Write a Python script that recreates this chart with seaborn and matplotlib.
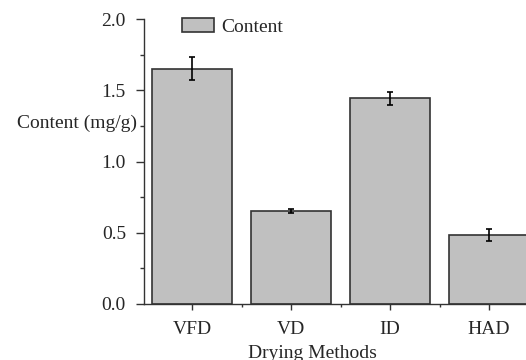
import matplotlib
matplotlib.use("Agg")
import matplotlib.pyplot as plt
from matplotlib.ticker import MultipleLocator, FixedLocator
import seaborn as sns
import pandas as pd

methods = ["VFD", "VD", "ID", "HAD"]
content = [1.65, 0.653, 1.443, 0.484]
errors = [0.08, 0.015, 0.045, 0.04]

sns.set_style("ticks")
plt.rcParams['font.family'] = ['Liberation Serif', 'DejaVu Serif']
plt.rcParams['font.size'] = 14

df = pd.DataFrame({"Method": methods, "Content": content})

fig = plt.figure(figsize=(5.26, 3.6), dpi=100)
ax = fig.add_axes([144/526, 56/360, 394.5/526, 285/360])

sns.barplot(data=df, x="Method", y="Content", color="#c0c0c0", saturation=1,
            edgecolor="#333333", linewidth=1.2, width=0.8, errorbar=None,
            ax=ax, label="Content")
ax.errorbar(x=list(range(len(methods))), y=content, yerr=errors, fmt="none",
            ecolor="black", elinewidth=1.2, capsize=2.3, capthick=1.2)

ax.set_xlim(-0.485, 3.5)
ax.set_ylim(0, 2.0)
ax.yaxis.set_major_locator(MultipleLocator(0.5))
ax.yaxis.set_minor_locator(MultipleLocator(0.25))
ax.xaxis.set_minor_locator(FixedLocator([0.5, 1.5, 2.5]))
ax.set_yticks([0, 0.5, 1.0, 1.5, 2.0])
ax.set_yticklabels(["0.0", "0.5", "1.0", "1.5", "2.0"])

ax.tick_params(axis="y", which="major", length=6, width=1, color="#333333", pad=7, labelsize=14)
ax.tick_params(axis="y", which="minor", length=3, width=1, color="#333333")
ax.tick_params(axis="x", which="major", length=4, width=1, color="#333333", pad=8, labelsize=14)
ax.tick_params(axis="x", which="minor", length=2, width=1, color="#333333")

for s in ["top", "right"]:
    ax.spines[s].set_visible(False)
for s in ["left", "bottom"]:
    ax.spines[s].set_color("#333333")
    ax.spines[s].set_linewidth(1.0)

ax.set_ylabel("Content (mg/g)", rotation=0, ha="right", va="center", fontsize=14)
ax.yaxis.set_label_coords(-0.018, 0.635)
ax.set_xlabel("Drying Methods", ha="center", va="top", fontsize=14)
ax.xaxis.set_label_coords(0.426, -0.144)

ax.legend(loc="center left", bbox_to_anchor=(0.0956, 0.972), frameon=False,
          borderpad=0, borderaxespad=0, handlelength=1.65, handleheight=0.72,
          handletextpad=0.36, fontsize=14)

fig.savefig("out.png", dpi=100)
